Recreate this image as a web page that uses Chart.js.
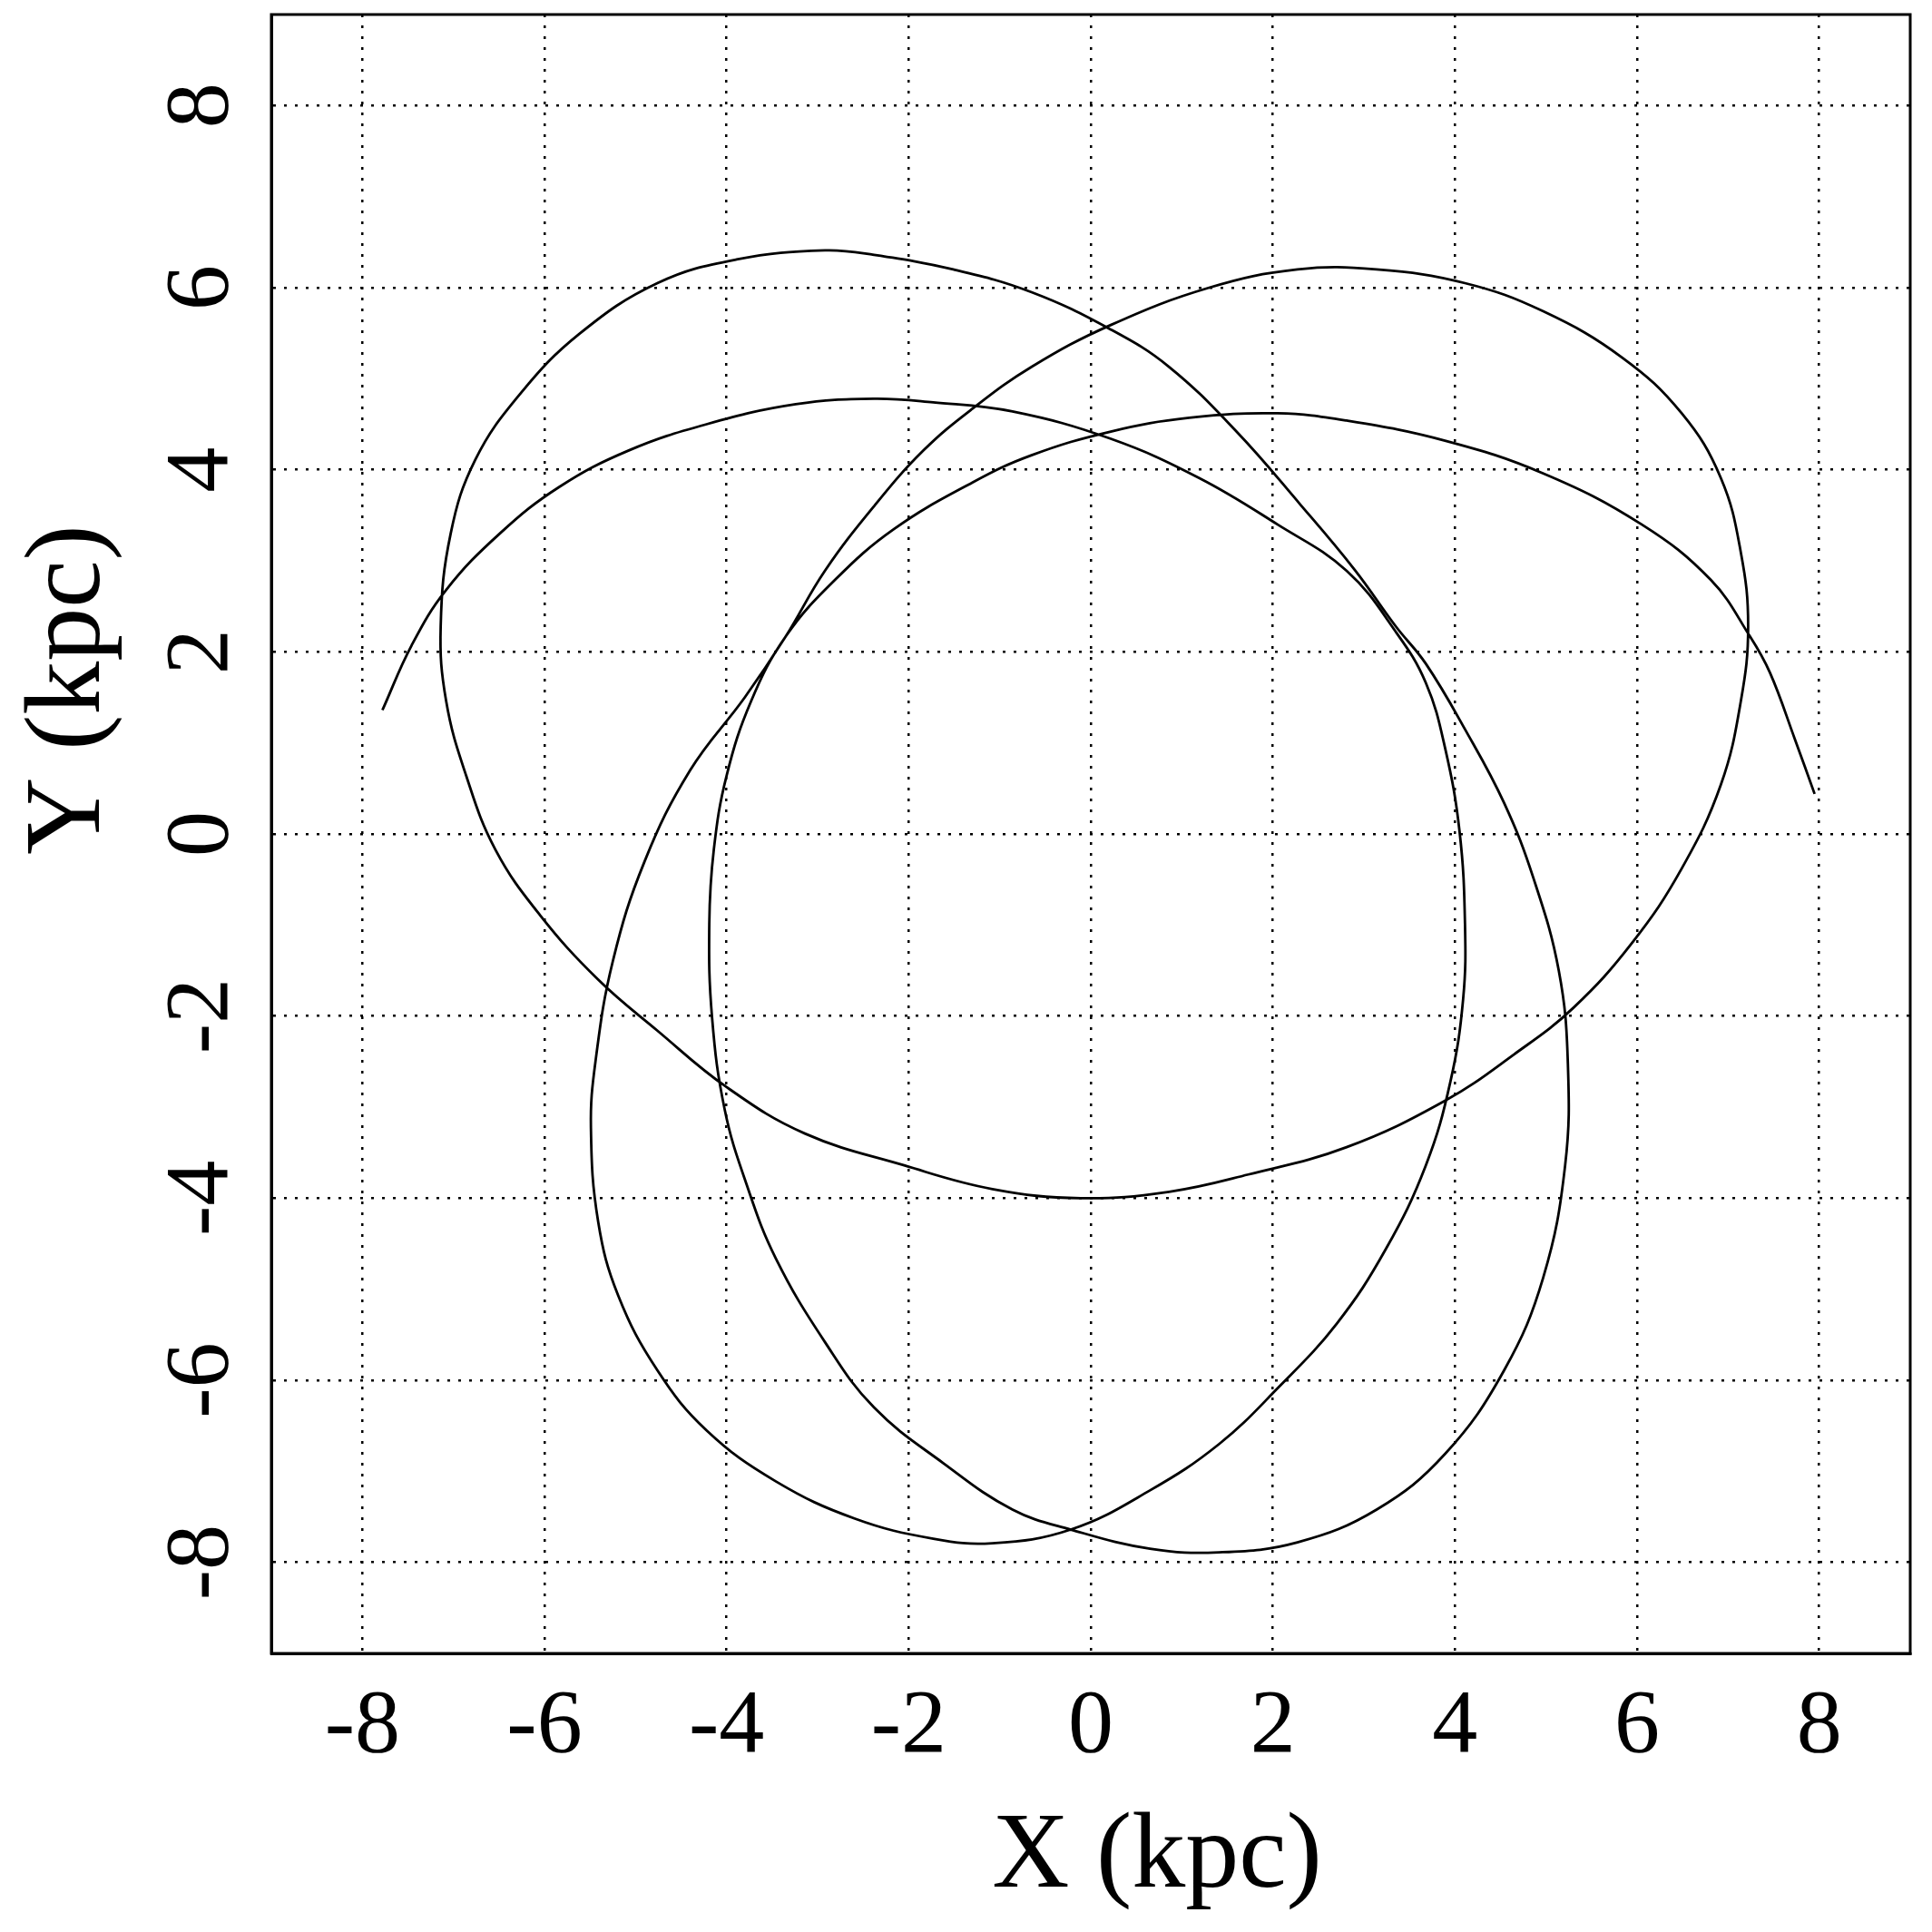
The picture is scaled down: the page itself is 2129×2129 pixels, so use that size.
<!DOCTYPE html>
<html lang="en">
<head>
  <meta charset="UTF-8" />
  <title>Orbit X-Y</title>
  <script src="https://cdn.jsdelivr.net/npm/chart.js"></script>
  <style>
    body { margin: 0; background: #fff; }
    #wrap { width: 2129px; height: 2129px; }
  </style>
</head>
<body>
<div id="wrap"><canvas id="orbit" width="2129" height="2129"></canvas></div>
<script>
  // orbit path, in kpc (start at x~8, ends at x~-7.8)
  const orbitX = [7.95,7.73,7.46,7.24,6.81,6.05,4.97,3.89,2.81,2.05,1.08,0.22,-0.65,-1.30,-2.16,-2.81,-3.35,
    -3.73,-4.00,-4.14,-4.19,-4.16,-4.02,-3.78,-3.46,-2.92,-2.38,-1.62,-0.86,-0.22,0.65,1.41,2.27,3.14,3.89,4.54,4.97,5.21,5.24,5.14,4.86,4.54,4.11,3.68,3.35,
    2.90,2.30,1.60,0.86,0.22,-0.65,-1.51,-2.38,-2.92,-3.89,-4.76,-5.62,-6.27,-6.76,-7.03,-7.14,-7.08,-6.86,-6.54,-6.05,-5.41,-4.76,-4.00,-3.14,-2.05,-1.08,-0.11,0.86,1.73,2.81,3.89,4.65,5.30,5.95,6.49,6.92,7.14,7.22,7.14,6.92,6.49,5.84,4.97,4.11,3.14,2.27,1.30,0.22,-0.65,-1.30,-1.84,-2.38,-2.92,-3.35,
    -3.80,-4.40,-4.90,-5.25,-5.44,-5.49,-5.41,-5.19,-4.76,-4.22,-3.46,-2.59,-1.73,-1.08,-0.22,
    0.65,1.41,2.05,2.70,3.24,3.68,3.95,4.09,4.11,4.05,3.89,3.68,3.35,
    2.81,2.05,1.19,0.22,-0.86,-1.73,-2.38,-3.24,-4.22,-5.08,-5.84,-6.49,-7.08,-7.46,-7.78];
  const orbitY = [0.44,1.05,1.77,2.17,2.79,3.40,3.96,4.32,4.54,4.62,4.57,4.42,4.16,3.86,3.35,2.79,2.17,
    1.46,0.64,-0.17,-0.99,-2.01,-3.03,-3.85,-4.66,-5.58,-6.30,-6.91,-7.42,-7.64,-7.85,-7.89,-7.78,-7.42,-6.81,-5.89,-4.87,-3.64,-2.52,-1.50,-0.48,0.34,1.15,1.87,2.28,
    2.90,3.62,4.42,5.13,5.54,5.95,6.20,6.36,6.41,6.31,6.05,5.49,4.83,4.11,3.30,2.28,1.46,0.64,-0.17,-0.89,-1.60,-2.16,-2.78,-3.29,-3.64,-3.90,-4.00,-3.93,-3.74,-3.44,-2.93,-2.42,-1.91,-1.19,-0.38,0.54,1.46,2.28,3.09,3.91,4.62,5.23,5.74,6.05,6.20,6.20,6.00,5.59,5.13,4.67,4.21,3.60,2.89,2.17,
    1.50,0.70,-0.30,-1.40,-2.50,-3.23,-4.26,-5.07,-5.89,-6.55,-7.11,-7.52,-7.74,-7.79,-7.64,
    -7.21,-6.70,-6.09,-5.38,-4.56,-3.64,-2.72,-1.81,-0.99,0.03,0.95,1.66,2.22,
    2.89,3.40,3.91,4.34,4.64,4.74,4.78,4.72,4.50,4.21,3.81,3.30,2.68,2.07,1.36];
  const tickValues = [-8, -6, -4, -2, 0, 2, 4, 6, 8];
  const xTitle = 'X (kpc)';
  const yTitle = 'Y (kpc)';

  const serif = "'Liberation Serif', 'DejaVu Serif', serif";

  // y tick labels and both axis titles, rotated like the original
  const axisText = {
    id: 'axisText',
    afterDraw(chart) {
      const ctx = chart.ctx;
      const ys = chart.scales.y;
      ctx.save();
      ctx.fillStyle = '#000';
      ctx.textAlign = 'center';
      ctx.textBaseline = 'middle';
      ctx.font = "100px " + serif;
      tickValues.forEach(v => {
        ctx.save();
        ctx.translate(224, ys.getPixelForValue(v));
        ctx.rotate(-Math.PI / 2);
        ctx.fillText(String(v), 0, 0);
        ctx.restore();
      });
      ctx.font = "118px " + serif;
      ctx.save();
      ctx.translate(78, 760);
      ctx.rotate(-Math.PI / 2);
      ctx.fillText(yTitle, 0, 0);
      ctx.restore();
      ctx.fillText(xTitle, 1275, 2048);
      ctx.restore();
    }
  };

  const gridOpts = {
    color: '#000',
    lineWidth: 2.5,
    drawTicks: false
  };

  new Chart(document.getElementById('orbit'), {
    type: 'scatter',
    data: {
      datasets: [{
        data: orbitX.map((x, i) => ({ x: x, y: orbitY[i] })),
        showLine: true,
        borderColor: '#000',
        borderWidth: 2.8,
        pointRadius: 0,
        tension: 0.4,
        fill: false
      }]
    },
    options: {
      responsive: false,
      animation: false,
      devicePixelRatio: 1,
      layout: { padding: { top: 16, right: 24, left: 0, bottom: 0 } },
      plugins: { legend: { display: false }, tooltip: { enabled: false } },
      scales: {
        x: {
          min: -9, max: 9,
          afterBuildTicks: s => { s.ticks = tickValues.map(v => ({ value: v })); },
          afterFit: s => { s.height = 307; },
          grid: gridOpts,
          border: { color: '#000', width: 3, dash: [3, 9] },
          ticks: { color: '#000', padding: 22, font: { family: serif, size: 100 } }
        },
        y: {
          min: -9, max: 9,
          afterBuildTicks: s => { s.ticks = tickValues.map(v => ({ value: v })); },
          afterFit: s => { s.width = 299; },
          grid: gridOpts,
          border: { color: '#000', width: 3, dash: [3, 9] },
          ticks: { display: false }
        }
      }
    },
    plugins: [axisText, {
      id: 'frame',
      afterDraw(chart) {
        const a = chart.chartArea, ctx = chart.ctx;
        ctx.save();
        ctx.strokeStyle = '#000';
        ctx.lineWidth = 3;
        ctx.strokeRect(a.left, a.top, a.right - a.left, a.bottom - a.top);
        ctx.restore();
      }
    }]
  });
</script>
</body>
</html>
